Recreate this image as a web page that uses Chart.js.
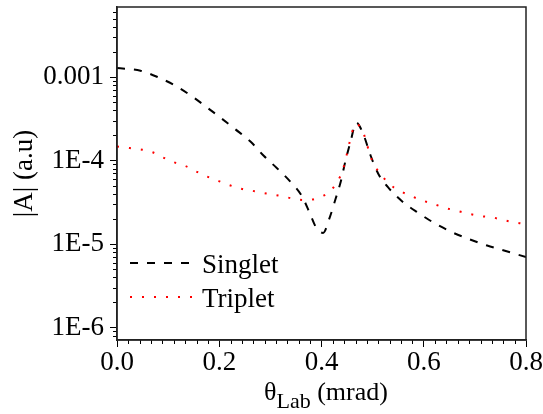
<!DOCTYPE html>
<html>
<head>
<meta charset="utf-8">
<script src="https://cdn.jsdelivr.net/npm/chart.js@4.4.1/dist/chart.umd.min.js"></script>
<style>
  body { margin: 0; background: #fff; }
  #wrap { width: 543px; height: 414px; position: relative; }
</style>
</head>
<body>
<div id="wrap"><canvas id="ampChart"></canvas></div>
<script>
// ----- Data -----
const thetaSinglet = [0, 0.046, 0.081, 0.114, 0.147, 0.176, 0.202, 0.231, 0.261, 0.287, 0.313, 0.339, 0.362, 0.377, 0.390, 0.403, 0.416, 0.427, 0.438, 0.447, 0.457, 0.468, 0.482, 0.496, 0.511, 0.530, 0.558, 0.590, 0.623, 0.656, 0.688, 0.724, 0.753, 0.800];
const ampSinglet = [1.28e-3, 1.19e-3, 9.9e-4, 7.9e-4, 5.86e-4, 4.33e-4, 3.28e-4, 2.38e-4, 1.69e-4, 1.14e-4, 8.1e-5, 5.6e-5, 3.72e-5, 2.35e-5, 1.56e-5, 1.36e-5, 2.07e-5, 3.39e-5, 5.7e-5, 1.0e-4, 1.7e-4, 2.85e-4, 2.05e-4, 1.15e-4, 6.95e-5, 4.8e-5, 3.24e-5, 2.35e-5, 1.75e-5, 1.38e-5, 1.15e-5, 9.6e-6, 8.5e-6, 7.0e-6];

const thetaTriplet = [0, 0.025, 0.049, 0.069, 0.090, 0.112, 0.134, 0.155, 0.176, 0.199, 0.222, 0.245, 0.269, 0.292, 0.315, 0.339, 0.364, 0.380, 0.398, 0.416, 0.431, 0.442, 0.453, 0.459, 0.467, 0.480, 0.488, 0.494, 0.504, 0.517, 0.532, 0.552, 0.574, 0.597, 0.620, 0.643, 0.665, 0.689, 0.712, 0.736, 0.748, 0.771, 0.795, 0.800];
const ampTriplet = [1.47e-4, 1.41e-4, 1.35e-4, 1.26e-4, 1.09e-4, 9.5e-5, 8.6e-5, 7.4e-5, 6.45e-5, 5.68e-5, 5.03e-5, 4.56e-5, 4.3e-5, 4.03e-5, 3.82e-5, 3.56e-5, 3.37e-5, 3.4e-5, 3.68e-5, 4.23e-5, 5.6e-5, 7.8e-5, 1.47e-4, 2.1e-4, 2.76e-4, 2.29e-4, 1.65e-4, 1.21e-4, 8.7e-5, 6.75e-5, 5.27e-5, 4.38e-5, 3.79e-5, 3.33e-5, 3.01e-5, 2.7e-5, 2.5e-5, 2.3e-5, 2.16e-5, 2.08e-5, 1.99e-5, 1.85e-5, 1.75e-5, 1.73e-5];

const xTickValues = [0, 0.2, 0.4, 0.6, 0.8];
const yTickValues = [1e-6, 1e-5, 1e-4, 1e-3];
const yTickLabels = ["1E-6", "1E-5", "1E-4", "0.001"];

const FONT = "'Liberation Serif', 'Times New Roman', serif";

function toPoints(xs, ys) {
  return xs.map((x, i) => ({ x: x, y: ys[i] }));
}

// ----- Minor ticks, frame, legend, x title -----
const extras = {
  id: "extras",
  afterDraw(chart) {
    const { ctx, chartArea: a, scales } = chart;
    const x = scales.x, y = scales.y;
    ctx.save();
    ctx.strokeStyle = "#000";
    ctx.lineWidth = 1;
    ctx.beginPath();
    for (let i = 1; i < 36; i++) {
      if (i % 9 === 0) continue;
      const px = Math.round(x.getPixelForValue(i * 0.2 / 9)) + 0.5;
      ctx.moveTo(px, a.bottom);
      ctx.lineTo(px, a.bottom + 4);
    }
    for (let e = -7; e <= -3; e++) {
      for (let m = 2; m <= 9; m++) {
        const v = m * Math.pow(10, e);
        if (v < y.min || v > y.max) continue;
        const py = Math.round(y.getPixelForValue(v)) + 0.5;
        ctx.moveTo(a.left - 4, py);
        ctx.lineTo(a.left, py);
      }
    }
    ctx.stroke();

    // frame
    ctx.lineWidth = 1.5;
    ctx.strokeStyle = "#222";
    ctx.strokeRect(a.left, a.top, a.right - a.left, a.bottom - a.top);

    // legend
    const rows = [263, 297];
    [0, 1].forEach((di, k) => {
      const ds = chart.data.datasets[di];
      const ly = rows[k];
      ctx.beginPath();
      ctx.setLineDash(ds.borderDash);
      ctx.lineWidth = ds.borderWidth;
      ctx.strokeStyle = ds.borderColor;
      ctx.moveTo(130, ly);
      ctx.lineTo(192, ly);
      ctx.stroke();
      ctx.setLineDash([]);
      ctx.fillStyle = "#000";
      ctx.font = "27px " + FONT;
      ctx.textBaseline = "alphabetic";
      ctx.textAlign = "left";
      ctx.fillText(ds.label, 202, ly + 9.5);
    });

    // x axis title with subscript
    ctx.fillStyle = "#000";
    ctx.textBaseline = "alphabetic";
    ctx.textAlign = "left";
    let tx = 264;
    ctx.font = "26px " + FONT;
    ctx.fillText("θ", tx, 400);
    tx += ctx.measureText("θ").width;
    ctx.font = "22px " + FONT;
    ctx.fillText("Lab", tx, 408);
    tx += ctx.measureText("Lab").width;
    ctx.font = "26px " + FONT;
    ctx.fillText(" (mrad)", tx, 400);
    ctx.restore();
  }
};

document.addEventListener("DOMContentLoaded", () => {
  const ctx = document.getElementById("ampChart").getContext("2d");
  new Chart(ctx, {
    type: "line",
    data: {
      datasets: [
        {
          label: "Singlet",
          data: toPoints(thetaSinglet, ampSinglet),
          borderColor: "#000",
          borderWidth: 2,
          borderDash: [8, 9],
          pointRadius: 0,
          cubicInterpolationMode: "monotone",
          order: 2,
        },
        {
          label: "Triplet",
          data: toPoints(thetaTriplet, ampTriplet),
          borderColor: "#ff0000",
          borderWidth: 2,
          borderDash: [2, 10],
          pointRadius: 0,
          cubicInterpolationMode: "monotone",
          order: 1,
        },
      ],
    },
    options: {
      responsive: true,
      maintainAspectRatio: false,
      animation: false,
      layout: { padding: { top: 7, right: 17, left: 0, bottom: 0 } },
      plugins: { legend: { display: false }, tooltip: { enabled: false } },
      scales: {
        x: {
          type: "linear",
          min: 0,
          max: 0.8,
          afterFit: (s) => { s.height = 74; s.paddingLeft = 0; s.paddingRight = 0; },
          afterBuildTicks: (s) => { s.ticks = xTickValues.map((v) => ({ value: v })); },
          ticks: {
            color: "#000",
            font: { family: FONT, size: 27 },
            padding: 0,
            maxRotation: 0,
            autoSkip: false,
            callback: (v) => Number(v).toFixed(1),
          },
          grid: { drawOnChartArea: false, tickLength: 7, tickColor: "#000", tickWidth: 1 },
          border: { display: true, color: "#222", width: 1.5 },
        },
        y: {
          type: "logarithmic",
          min: 7.1e-7,
          max: 6.9e-3,
          afterFit: (s) => { s.width = 117; s.paddingTop = 0; s.paddingBottom = 0; },
          afterBuildTicks: (s) => { s.ticks = yTickValues.map((v) => ({ value: v })); },
          ticks: {
            color: "#000",
            font: { family: FONT, size: 27 },
            padding: 6,
            autoSkip: false,
            callback: (v) => {
              const i = yTickValues.findIndex((t) => Math.abs(t - v) / t < 1e-6);
              return i >= 0 ? yTickLabels[i] : "";
            },
          },
          grid: { drawOnChartArea: false, tickLength: 7, tickColor: "#000", tickWidth: 1 },
          border: { display: true, color: "#222", width: 1.5 },
          title: {
            display: true,
            text: "|A| (a.u)",
            color: "#000",
            font: { family: FONT, size: 27 },
            padding: { top: 9, bottom: 0 },
          },
        },
      },
    },
    plugins: [extras],
  });
});
</script>
</body>
</html>
